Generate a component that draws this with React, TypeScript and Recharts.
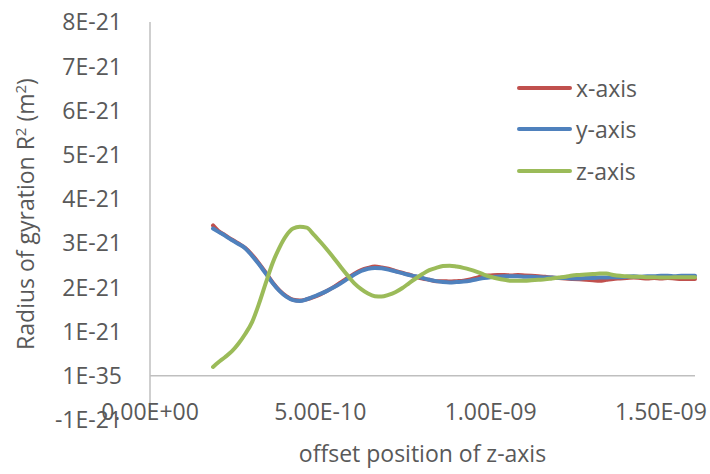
import React from "react";
import { LineChart, Line, XAxis, YAxis, ReferenceLine } from "recharts";

// x positions in units of 1E-10 m
const xs = [
  1.85, 2.0, 2.2, 2.4, 2.6, 2.8, 3.0, 3.2, 3.4, 3.6, 3.8,
  4.0, 4.2, 4.4, 4.6, 4.8, 5.0, 5.2, 5.4, 5.6, 5.8,
  6.0, 6.2, 6.4, 6.6, 6.8, 7.0, 7.2, 7.4, 7.6, 7.8,
  8.0, 8.2, 8.4, 8.6, 8.8,
  9.0, 9.2, 9.4, 9.6, 9.8,
  10.0, 10.2, 10.4, 10.6, 10.8,
  11.0, 11.2, 11.4, 11.6, 11.8,
  12.0, 12.2, 12.4, 12.6, 12.8,
  13.0, 13.2, 13.4, 13.6, 13.8,
  14.0, 14.2, 14.4, 14.6, 14.8,
  15.0, 15.2, 15.4, 15.6, 15.8,
  16.0,
];

// values in units of 1E-21 m^2
const xAxisSeries = [
  3.40, 3.28, 3.18, 3.08, 2.99, 2.89, 2.73, 2.54, 2.33, 2.11, 1.93,
  1.80, 1.72, 1.70, 1.73, 1.78, 1.84, 1.92, 2.01, 2.11, 2.21,
  2.31, 2.39, 2.44, 2.47, 2.45, 2.42, 2.37, 2.33, 2.29, 2.24,
  2.20, 2.17, 2.14, 2.14, 2.13,
  2.14, 2.15, 2.18, 2.22, 2.26,
  2.27, 2.28, 2.28, 2.27, 2.28,
  2.27, 2.26, 2.25, 2.24, 2.22,
  2.21, 2.20, 2.19, 2.18, 2.17,
  2.16, 2.15, 2.17, 2.19, 2.20,
  2.21, 2.22, 2.21, 2.20, 2.21,
  2.20, 2.21, 2.20, 2.19, 2.19,
  2.19,
];

const yAxisSeries = [
  3.33, 3.26, 3.17, 3.07, 2.98, 2.88, 2.71, 2.52, 2.31, 2.10, 1.92,
  1.79, 1.71, 1.69, 1.73, 1.79, 1.85, 1.92, 2.00, 2.09, 2.19,
  2.29, 2.37, 2.42, 2.44, 2.43, 2.40, 2.36, 2.32, 2.28, 2.25,
  2.21, 2.17, 2.14, 2.12, 2.11,
  2.12, 2.13, 2.15, 2.18, 2.21,
  2.23, 2.24, 2.25, 2.25, 2.25,
  2.24, 2.24, 2.23, 2.22, 2.22,
  2.21, 2.21, 2.20, 2.20, 2.21,
  2.21, 2.22, 2.22, 2.23, 2.23,
  2.24, 2.25, 2.24, 2.25, 2.25,
  2.26, 2.26, 2.25, 2.26, 2.26,
  2.26,
];

const zAxisSeries = [
  0.20, 0.30, 0.42, 0.55, 0.73, 0.95, 1.22, 1.63, 2.10, 2.55, 2.90,
  3.17, 3.33, 3.37, 3.35, 3.20, 3.03, 2.85, 2.66, 2.46, 2.27,
  2.09, 1.96, 1.86, 1.80, 1.79, 1.83, 1.89, 1.98, 2.09, 2.20,
  2.30, 2.39, 2.44, 2.48, 2.49,
  2.47, 2.44, 2.40, 2.35, 2.29,
  2.24, 2.20, 2.17, 2.15, 2.15,
  2.15, 2.16, 2.17, 2.18, 2.20,
  2.22, 2.24, 2.27, 2.28, 2.29,
  2.30, 2.31, 2.31, 2.28, 2.26,
  2.25, 2.24, 2.24, 2.23, 2.23,
  2.22, 2.22, 2.23, 2.23, 2.23,
  2.23,
];

const seriesNames = ["x-axis", "y-axis", "z-axis"];
const seriesColors = ["#C0504D", "#4F81BD", "#9BBB59"];

const xTicks = [0, 5, 10, 15];
const xTickLabels = ["0.00E+00", "5.00E-10", "1.00E-09", "1.50E-09"];
const yTicks = [-1, 0, 1, 2, 3, 4, 5, 6, 7, 8];
const yTickLabels = ["-1E-21", "1E-35", "1E-21", "2E-21", "3E-21", "4E-21", "5E-21", "6E-21", "7E-21", "8E-21"];

const data = xs.map((x, i) => ({
  x,
  xa: xAxisSeries[i],
  ya: yAxisSeries[i],
  za: zAxisSeries[i],
}));

const FONT = "'Open Sans', Lato, sans-serif";
const TEXT_COLOR = "#595959";
const FS = 23;

const YTick = (props: any) => {
  const { x, y, payload } = props;
  const idx = yTicks.indexOf(payload.value);
  return (
    <text x={x} y={y} dy="0.36em" textAnchor="end" fill={TEXT_COLOR} fontFamily={FONT} fontSize={FS}>
      {yTickLabels[idx]}
    </text>
  );
};

const XTick = (props: any) => {
  const { x, y, payload } = props;
  const idx = xTicks.indexOf(payload.value);
  return (
    <text x={x} y={y} textAnchor="middle" fill={TEXT_COLOR} fontFamily={FONT} fontSize={FS}>
      {xTickLabels[idx]}
    </text>
  );
};

const YTitle = (props: any) => {
  const vb = props.viewBox || { x: 0, y: 22, width: 150, height: 398 };
  const cx = vb.x + 34;
  const cy = vb.y + vb.height / 2 - 7;
  return (
    <text
      x={cx}
      y={cy}
      textAnchor="middle"
      transform={`rotate(-90, ${cx}, ${cy})`}
      fill={TEXT_COLOR}
      fontFamily={FONT}
      fontSize={FS}
    >
      <tspan>Radius of gyration R</tspan>
      <tspan dy={-8} fontSize={15}>2</tspan>
      <tspan dy={8}> (m</tspan>
      <tspan dy={-8} fontSize={15}>2</tspan>
      <tspan dy={8}>)</tspan>
    </text>
  );
};

const XTitle = (props: any) => {
  const vb = props.viewBox || { x: 150, y: 420, width: 545, height: 54 };
  return (
    <text
      x={vb.x + vb.width / 2}
      y={vb.y + 42}
      textAnchor="middle"
      fill={TEXT_COLOR}
      fontFamily={FONT}
      fontSize={FS}
    >
      offset position of z-axis
    </text>
  );
};

const LegendBox = () => (
  <div style={{ position: "absolute", left: 517, top: 67, display: "flex", flexDirection: "column" }}>
    {seriesNames.map((n, i) => (
      <div key={n} style={{ display: "flex", alignItems: "center", height: 41.5 }}>
        <div
          style={{
            width: 55,
            height: 4,
            borderRadius: 2,
            background: seriesColors[i],
            marginRight: 4,
          }}
        />
        <span style={{ fontFamily: FONT, fontSize: FS, color: TEXT_COLOR, lineHeight: "26px" }}>{n}</span>
      </div>
    ))}
  </div>
);

export default function App() {
  return (
    <div style={{ position: "absolute", left: 0, top: 0, width: 710, height: 474, background: "#fff" }}>
      <LineChart width={710} height={474} data={data} margin={{ top: 22, right: 15, left: 0, bottom: 0 }}>
        <XAxis
          dataKey="x"
          type="number"
          domain={[0, 16]}
          ticks={xTicks}
          axisLine={false}
          tickLine={false}
          tickSize={0}
          tickMargin={0}
          height={54}
          tick={<XTick />}
          label={<XTitle />}
          interval={0}
        />
        <YAxis
          type="number"
          domain={[-1, 8]}
          ticks={yTicks}
          width={150}
          axisLine={{ stroke: "#BFBFBF", strokeWidth: 1.5 }}
          tickLine={false}
          tickSize={0}
          tickMargin={28}
          tick={<YTick />}
          label={<YTitle />}
          interval={0}
        />
        <ReferenceLine y={0} stroke="#BFBFBF" strokeWidth={1.5} />
        <Line
          dataKey="xa"
          name={seriesNames[0]}
          stroke={seriesColors[0]}
          strokeWidth={4}
          dot={false}
          type="monotone"
          strokeLinecap="round"
          isAnimationActive={false}
        />
        <Line
          dataKey="ya"
          name={seriesNames[1]}
          stroke={seriesColors[1]}
          strokeWidth={4}
          dot={false}
          type="monotone"
          strokeLinecap="round"
          isAnimationActive={false}
        />
        <Line
          dataKey="za"
          name={seriesNames[2]}
          stroke={seriesColors[2]}
          strokeWidth={4}
          dot={false}
          type="monotone"
          strokeLinecap="round"
          isAnimationActive={false}
        />
      </LineChart>
      <LegendBox />
    </div>
  );
}
